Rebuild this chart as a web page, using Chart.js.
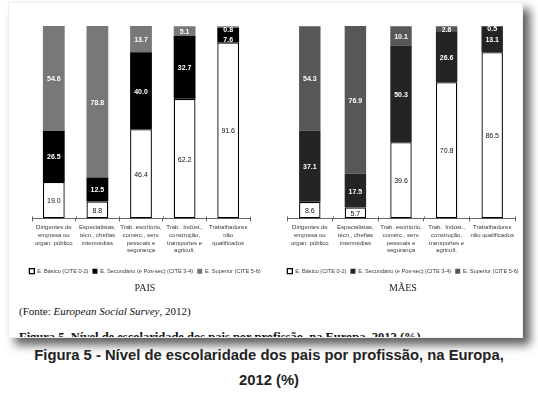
<!DOCTYPE html>
<html><head><meta charset="utf-8">
<script src="https://cdn.jsdelivr.net/npm/chart.js@4.4.0/dist/chart.umd.min.js"></script>
<style>
html,body{margin:0;padding:0;background:#fff;width:538px;height:394px;overflow:hidden;}
#card{position:absolute;left:8px;top:2px;width:513px;height:334px;background:#fff;border:1px solid #f0f0f0;box-shadow:7px 7px 9px rgba(40,40,40,0.75);overflow:hidden;}
.cv{position:absolute;}
#src{position:absolute;left:10px;top:302px;font:11px "Liberation Serif",serif;color:#111;white-space:nowrap;}
#cut{position:absolute;left:10px;top:327px;font:bold 12.5px "Liberation Serif",serif;color:#111;white-space:nowrap;}
.cap{position:absolute;left:0;width:538px;text-align:center;font:bold 14.8px "Liberation Sans",Arial,sans-serif;color:#222;white-space:nowrap;}
</style></head><body>
<div id="card">
  <div id="src">(Fonte: <i>European Social Survey</i>, 2012)</div>
  <div id="cut">Figura 5. Nível de escolaridade dos pais por profissão, na Europa, 2012 (%)</div>
</div>
<canvas id="c1" class="cv" width="262" height="290" style="left:14px;top:10px;width:262px;height:290px"></canvas>
<canvas id="c2" class="cv" width="262" height="290" style="left:272px;top:10px;width:262px;height:290px"></canvas>
<div class="cap" style="top:347px">Figura 5 - Nível de escolaridade dos pais por profissão, na Europa,</div>
<div class="cap" style="top:372px">2012 (%)</div>
<script>
const seriesNames = ["E. Básico (CITE 0-2)", "E. Secundário (e Pós-sec) (CITE 3-4)", "E. Superior (CITE 5-6)"];
const categoriesPais = [
  ["Dirigentes de","empresa ou","organ. público"],
  ["Especialistas,","técn., chefias","intermédias"],
  ["Trab. escritório,","comérc., serv.","pessoais e","segurança"],
  ["Trab.  Indúst.,","construção,","transportes e","agricult."],
  ["Trabalhadores","não","qualificados"]
];
const categoriesMaes = [
  ["Dirigentes de","empresa ou","organ. público"],
  ["Especialistas,","técn., chefias","intermédias"],
  ["Trab. escritório,","comérc., serv.","pessoais e","segurança"],
  ["Trab.  Indúst.,","construção,","transportes e","agricult."],
  ["Trabalhadores","não qualificados"]
];
const paisBasico = [19.0, 8.8, 46.4, 62.2, 91.6];
const paisSecundario = [26.5, 12.5, 40.0, 32.7, 7.6];
const paisSuperior = [54.6, 78.8, 13.7, 5.1, 0.8];
const maesBasico = [8.6, 5.7, 39.6, 70.8, 86.5];
const maesSecundario = [37.1, 17.5, 50.3, 26.6, 13.1];
const maesSuperior = [54.3, 76.9, 10.1, 2.6, 0.5];
const titlePais = "PAIS";
const titleMaes = "MÃES";

const segLabels = {
  id: 'segLabels',
  afterDatasetsDraw(chart) {
    const ctx = chart.ctx;
    const nd = chart.data.datasets.length;
    const n = chart.data.labels.length;
    ctx.save();
    ctx.textAlign = 'center';
    ctx.textBaseline = 'middle';
    for (let i = 0; i < n; i++) {
      const topEl = chart.getDatasetMeta(nd - 1).data[i];
      const barTop = Math.min(topEl.y, topEl.base);
      let prevY = -Infinity;
      for (let d = nd - 1; d >= 0; d--) {
        const ds = chart.data.datasets[d];
        const el = chart.getDatasetMeta(d).data[i];
        const t = Math.min(el.y, el.base), b = Math.max(el.y, el.base);
        let y = (t + b) / 2 + 1;
        y = Math.max(y, barTop + 3.5, prevY + 10.5);
        prevY = y;
        ctx.fillStyle = ds.labelColor;
        ctx.font = (ds.labelBold ? 'bold ' : '') + '7px "Liberation Sans", Arial, sans-serif';
        ctx.fillText(ds.data[i].toFixed(1), el.x, y);
      }
    }
    ctx.restore();
  }
};

// small tick marks crossing the axis line upwards (Excel style)
const crossTicks = {
  id: 'crossTicks',
  afterDraw(chart) {
    const xs = chart.scales.x;
    const ctx = chart.ctx;
    const n = chart.data.labels.length;
    const step = (xs.right - xs.left) / n;
    ctx.save();
    ctx.strokeStyle = '#666';
    ctx.lineWidth = 1;
    for (let i = 0; i <= n; i++) {
      const x = Math.round(xs.left + i * step) + 0.5;
      ctx.beginPath();
      ctx.moveTo(x, xs.top - 2);
      ctx.lineTo(x, xs.top);
      ctx.stroke();
    }
    ctx.restore();
  }
};

function makeChart(id, cats, b, s, u, dark, gray, title, padL, padR, barPct) {
  new Chart(document.getElementById(id), {
    type: 'bar',
    data: {
      labels: cats,
      datasets: [
        {label: seriesNames[0], data: b, backgroundColor: '#ffffff', borderColor: '#000', borderWidth: 1.3, borderSkipped: false, labelColor: '#111', labelBold: false},
        {label: seriesNames[1], data: s, backgroundColor: dark, borderWidth: 0, labelColor: '#fff', labelBold: true},
        {label: seriesNames[2], data: u, backgroundColor: gray, borderWidth: 0, labelColor: '#fff', labelBold: true}
      ]
    },
    options: {
      responsive: false,
      animation: false,
      devicePixelRatio: 1,
      layout: {padding: {left: 0, right: 0, top: 16, bottom: 0}},
      datasets: {bar: {barPercentage: barPct, categoryPercentage: 1}},
      scales: {
        x: {
          stacked: true,
          grid: {offset: true, drawOnChartArea: false, color: '#666', tickLength: 3, tickWidth: 1},
          border: {display: true, color: '#666', width: 1},
          ticks: {maxRotation: 0, autoSkip: false, color: '#3a3a3a', padding: 2,
            font: {family: '"Liberation Sans", Arial, sans-serif', size: 6, lineHeight: 1.3}},
          afterFit(scale) { scale.height = 46; }
        },
        y: {stacked: true, display: true, position: 'left', min: 0, max: 100.1,
            ticks: {display: false}, grid: {display: false}, border: {display: false},
            afterFit(scale) { scale.width = padL; }},
        yr: {display: true, position: 'right', min: 0, max: 1,
            ticks: {display: false}, grid: {display: false}, border: {display: false},
            afterFit(scale) { scale.width = padR; }}
      },
      plugins: {
        legend: {
          position: 'bottom',
          labels: {boxWidth: 5, boxHeight: 5, padding: 4, color: '#3a3a3a',
            font: {family: '"Liberation Sans", Arial, sans-serif', size: 5.6}}
        },
        title: {
          display: true, text: title, position: 'bottom', color: '#222',
          font: {family: '"Liberation Serif", serif', size: 10, weight: 'normal'},
          padding: {top: -2, bottom: 6}
        },
        tooltip: {enabled: false}
      }
    },
    plugins: [segLabels, crossTicks]
  });
}

makeChart('c1', categoriesPais, paisBasico, paisSecundario, paisSuperior, '#000000', '#7a7777', titlePais, 18, 26, 0.5);
makeChart('c2', categoriesMaes, maesBasico, maesSecundario, maesSuperior, '#242424', '#575757', titleMaes, 15, 19, 0.47);
</script>
</body></html>
